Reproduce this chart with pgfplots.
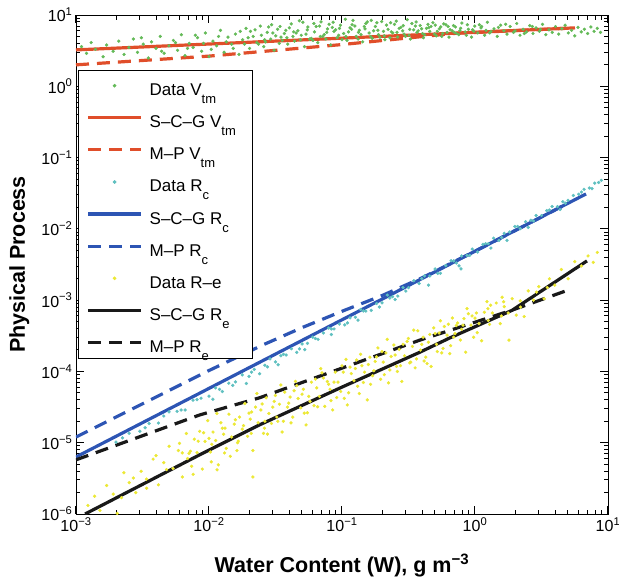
\documentclass[border=0pt]{standalone}
\usepackage{pgfplots}
\pgfplotsset{compat=1.18}
\usepackage{fontspec}
\setmainfont{Liberation Sans}
\definecolor{cgreen}{RGB}{100,186,88}
\definecolor{cred}{RGB}{224,78,42}
\definecolor{cblue}{RGB}{45,85,180}
\definecolor{ccyan}{RGB}{95,192,192}
\definecolor{cyellow}{RGB}{236,232,52}
\definecolor{cblack}{RGB}{25,25,25}
\newcommand\sub[1]{\raisebox{-8pt}{\fontsize{13}{13}\selectfont #1}}
\newcommand\rs{\rule[-9pt]{0pt}{30.4pt}}
\newcommand\tl[1]{\fontsize{16}{18}\selectfont 10\textsuperscript{#1}}
\begin{document}
\begin{tikzpicture}
\begin{axis}[
  scale only axis, width=532pt, height=499pt,
  xmode=log, ymode=log,
  xmin=1e-3, xmax=10, ymin=1e-6, ymax=10,
  xtick={1e-3,1e-2,1e-1,1,10},
  xticklabels={\tl{−3},\tl{−2},\tl{−1},\tl{0},\tl{1}},
  ytick={1e-6,1e-5,1e-4,1e-3,1e-2,1e-1,1,10},
  yticklabels={\tl{−6},\tl{−5},\tl{−4},\tl{−3},\tl{−2},\tl{−1},\tl{0},\tl{1}},
  minor xtick={2e-3,3e-3,4e-3,5e-3,6e-3,7e-3,8e-3,9e-3,2e-2,3e-2,4e-2,5e-2,6e-2,7e-2,8e-2,9e-2,0.2,0.3,0.4,0.5,0.6,0.7,0.8,0.9,2,3,4,5,6,7,8,9},
  minor ytick={2e-6,3e-6,4e-6,5e-6,6e-6,7e-6,8e-6,9e-6,2e-5,3e-5,4e-5,5e-5,6e-5,7e-5,8e-5,9e-5,2e-4,3e-4,4e-4,5e-4,6e-4,7e-4,8e-4,9e-4,2e-3,3e-3,4e-3,5e-3,6e-3,7e-3,8e-3,9e-3,2e-2,3e-2,4e-2,5e-2,6e-2,7e-2,8e-2,9e-2,0.2,0.3,0.4,0.5,0.6,0.7,0.8,0.9,2,3,4,5,6,7,8,9},
  tick align=inside,
  major tick length=8pt, minor tick length=4.5pt,
  tick style={black, line width=1pt},
  xlabel={\fontsize{21.5}{24}\selectfont\textbf{Water Content (W), g m\textsuperscript{−3}}},
  ylabel={\fontsize{21.5}{24}\selectfont\textbf{Physical Process}},
  xlabel style={at={(rel axis cs:0.5,0)}, anchor=base, yshift=-58pt},
  ylabel style={at={([xshift=-51pt]rel axis cs:0,0.5)}, anchor=base},
  legend image code/.code={\draw[mark repeat=2,mark phase=2] plot coordinates {(0pt,0pt) (26.5pt,0pt) (53pt,0pt)};},
  legend cell align=left,
  legend style={at={(rel axis cs:0.004,0.89)}, anchor=north west, draw=black, line width=0.7pt,
    fill=white, font=\fontsize{17}{19}\selectfont, inner xsep=8pt, inner ysep=2pt, row sep=5.2pt,
    /tikz/every odd column/.append style={column sep=5pt}},
]
\coordinate (bl) at (rel axis cs:0,0);
\coordinate (tr) at (rel axis cs:1,1);
% Data V_tm
\addplot[only marks, mark=*, mark size=1.45pt, color=cgreen] coordinates {
(0.0011,3.6)(0.0012,2.9)(0.0013,4.1)(0.0014,3.3)(0.0016,2.6)(0.0017,3.8)(0.0019,3.1)(0.0021,4.3)(0.0023,2.8)(0.0025,3.5)
(0.0027,4.6)(0.0029,3.0)(0.0032,3.9)(0.0035,2.5)(0.0037,4.2)(0.0040,3.4)(0.0043,5.0)(0.0046,2.9)(0.0050,3.7)(0.0054,4.4)
(0.0058,3.2)(0.0062,5.3)(0.0066,2.7)(0.0071,4.0)(0.0076,3.5)(0.0082,4.8)(0.0088,3.1)(0.0094,5.6)(0.0100,2.6)(0.0107,4.3)
(0.0114,3.7)(0.0122,6.1)(0.0130,3.0)(0.0139,4.9)(0.0148,3.9)(0.0158,5.4)(0.0168,2.8)(0.0179,4.5)(0.0190,6.5)(0.0202,3.4)
(0.0215,5.0)(0.0229,4.1)(0.0243,7.0)(0.0258,3.6)(0.0274,5.7)(0.0291,4.6)(0.0309,3.2)(0.0328,6.3)(0.0348,4.9)(0.0369,5.5)
(0.0391,3.9)(0.0415,7.5)(0.0440,4.3)(0.0466,6.0)(0.0494,5.2)(0.0523,3.6)(0.0554,6.8)(0.0587,4.7)(0.0621,5.8)(0.0657,4.1)
(0.0696,8.0)(0.0736,5.3)(0.0778,6.4)(0.0823,3.8)(0.0870,5.9)(0.0920,4.8)(0.0973,7.2)(0.103,5.5)(0.109,4.4)(0.115,6.6)
(0.121,8.4)(0.128,5.0)(0.135,6.1)(0.143,4.2)(0.151,7.6)(0.160,5.6)(0.169,4.7)(0.178,6.9)(0.188,5.3)(0.199,8.1)
(0.210,4.5)(0.222,6.3)(0.235,5.8)(0.248,7.4)(0.262,4.9)(0.277,6.7)(0.293,5.4)(0.310,8.6)(0.327,4.6)(0.346,6.2)
(0.366,5.7)(0.387,7.1)(0.409,4.8)(0.432,6.5)(0.457,5.9)(0.483,7.8)(0.511,5.1)(0.540,6.4)(0.571,5.5)(0.604,7.3)
(0.638,4.9)(0.675,6.0)(0.713,6.8)(0.754,5.3)(0.797,7.7)(0.843,5.8)(0.891,6.3)(0.942,4.9)(0.996,7.0)(1.05,5.6)
(1.11,6.6)(1.18,5.2)(1.24,7.9)(1.32,5.9)(1.39,6.4)(1.47,5.0)(1.56,7.2)(1.65,6.0)(1.74,5.4)(1.84,6.9)
(1.95,5.7)(2.06,7.6)(2.18,5.2)(2.30,6.3)(2.44,5.8)(2.58,7.1)(2.73,5.5)(2.88,6.6)(3.05,5.9)(3.22,7.4)
(3.41,5.3)(3.60,6.2)(3.81,5.7)(4.03,6.9)(4.26,5.4)(4.50,6.4)(4.76,7.2)(5.03,5.6)(5.32,6.1)(5.63,5.1)
(5.95,6.7)(6.29,5.8)(6.65,6.3)(7.03,5.5)(7.44,6.8)(7.86,5.9)(8.31,6.5)(8.79,5.7)
(0.0205,5.9)(0.0236,3.9)(0.0281,6.8)(0.0318,5.1)(0.0356,4.4)(0.0402,6.6)(0.0452,5.6)(0.0508,7.9)(0.0570,4.6)(0.0640,6.9)
(0.0716,5.0)(0.0800,7.4)(0.0895,6.2)(0.100,4.5)(0.112,5.8)(0.125,7.0)(0.139,5.3)(0.155,8.0)(0.173,6.0)(0.193,4.9)
(0.216,7.2)(0.241,5.6)(0.269,6.5)(0.300,5.0)(0.335,7.6)(0.374,6.0)(0.418,5.3)(0.467,6.9)(0.521,5.9)(0.582,7.5)
(0.650,6.2)(0.726,5.5)
(0.0222,6.2)(0.0262,4.5)(0.0296,7.3)(0.0338,4.0)(0.0378,6.1)(0.0428,5.0)(0.0478,8.3)(0.0536,5.4)(0.0605,4.4)(0.0678,7.0)
(0.0757,4.6)(0.0846,6.7)(0.0945,5.2)(0.106,8.7)(0.118,6.3)(0.132,4.6)(0.147,6.9)(0.164,5.0)(0.183,7.8)(0.205,5.9)
(0.229,4.8)(0.256,8.2)(0.286,6.0)(0.319,5.2)(0.356,7.0)(0.397,6.4)(0.443,7.4)(0.495,5.4)(0.553,6.8)(0.617,5.7)
(0.69,7.1)(0.77,6.0)(0.86,5.2)(0.96,6.2)(1.08,7.3)(1.21,6.1)
(0.0031,4.8)(0.0044,3.1)(0.0056,4.1)(0.0069,3.4)(0.0079,5.2)(0.0091,4.0)(0.0104,3.3)(0.0118,5.0)(0.0135,4.2)(0.0152,3.4)
(0.0172,5.9)(0.0185,3.9)(0.0197,4.8)(0.0248,5.2)(0.0266,4.2)(0.0302,5.6)(0.0342,6.9)(0.0385,4.8)(0.0433,5.8)(0.0487,4.5)
(0.0548,6.2)(0.0615,7.6)(0.0688,5.0)(0.0768,5.7)(0.0858,7.9)(0.0958,6.5)(0.107,5.0)(0.119,7.3)(0.133,5.7)(0.149,6.4)
(0.166,8.4)(0.186,6.1)(0.208,5.1)(0.232,7.8)(0.259,5.7)(0.289,7.1)(0.323,6.3)(0.361,8.0)(0.403,5.5)(0.45,6.7)
(0.503,7.2)(0.562,5.0)(0.628,6.9)(0.70,5.7)(0.78,6.5)(0.875,7.3)(0.98,5.9)(1.12,6.9)(1.29,5.6)(1.5,6.7)
(1.7,7.4)(2.0,6.0)(2.35,5.5)(2.7,6.9)(3.1,6.3)
};
\addlegendentry{\rs Data V\sub{tm}}
\addplot[cred, line width=3.2pt] coordinates {(0.001,3.24)(5.65,6.6)};
\addlegendentry{\rs S–C–G V\sub{tm}\hspace*{6pt}}
\addplot[cred, line width=3.2pt, dash pattern=on 13pt off 8pt] coordinates {(0.001,2.0)(0.01,2.65)(0.1,3.85)(0.68,5.5)(4.83,6.5)};
\addlegendentry{\rs M–P V\sub{tm}}
% Data R_c
\addplot[only marks, mark=*, mark size=1.45pt, color=ccyan] coordinates {
(0.0020,1.02e-5)(0.00251,1.36e-5)(0.00302,1.45e-5)(0.00355,1.86e-5)(0.00417,1.89e-5)(0.00501,2.71e-5)(0.00575,2.76e-5)(0.00661,2.88e-5)
(0.00759,3.95e-5)(0.00871,4.21e-5)(0.0100,4.49e-5)(0.0112,5.89e-5)(0.0126,5.22e-5)(0.0141,6.85e-5)(0.0158,7.14e-5)(0.0178,8.95e-5)
(0.0200,8.53e-5)(0.0219,1.07e-4)(0.0240,9.29e-5)(0.0263,1.22e-4)(0.0288,1.50e-4)(0.0316,1.36e-4)(0.0347,1.66e-4)(0.0380,1.70e-4)
(0.0417,2.08e-4)(0.0457,1.85e-4)(0.0501,2.43e-4)(0.0550,2.48e-4)(0.0603,3.03e-4)(0.0661,2.82e-4)(0.0724,3.46e-4)(0.0794,4.06e-4)
(0.0871,3.94e-4)(0.0955,4.62e-4)(0.105,4.50e-4)(0.115,5.65e-4)(0.126,5.75e-4)(0.138,7.40e-4)(0.151,7.03e-4)(0.166,7.18e-4)
(0.182,8.99e-4)(0.200,9.18e-4)(0.219,1.18e-3)(0.240,1.12e-3)(0.263,1.14e-3)(0.288,1.50e-3)(0.316,1.50e-3)(0.347,1.87e-3)
(0.380,1.71e-3)(0.417,2.19e-3)(0.457,2.18e-3)(0.501,2.74e-3)(0.550,2.38e-3)(0.603,3.05e-3)(0.661,3.57e-3)(0.724,3.32e-3)
(0.794,4.17e-3)(0.871,4.25e-3)(0.955,5.20e-3)(1.047,4.73e-3)(1.148,6.07e-3)(1.259,6.19e-3)(1.380,7.41e-3)(1.514,6.90e-3)
(1.660,8.65e-3)(1.820,9.04e-3)(1.995,1.08e-2)(2.188,1.01e-2)(2.399,1.26e-2)(2.630,1.32e-2)(2.884,1.54e-2)(3.162,1.54e-2)
(3.467,1.80e-2)(3.802,2.06e-2)(4.169,2.05e-2)(4.571,2.40e-2)(5.012,2.51e-2)(5.495,2.94e-2)(6.026,3.06e-2)(6.607,3.59e-2)
(7.244,3.74e-2)(7.943,4.38e-2)(8.511,4.47e-2)
(0.0107,4.08e-5)(0.0191,6.78e-5)(0.0331,1.24e-4)(0.0525,2.02e-4)(0.0832,3.29e-4)(0.132,5.24e-4)(0.251,1.02e-3)(0.447,1.62e-3)
(0.759,3.03e-3)(1.318,5.38e-3)(2.512,1.05e-2)(4.365,1.87e-2)(0.785,2.75e-3)(1.74,6.9e-3)
(0.00224,1.17e-5)(0.00331,1.62e-5)(0.00457,2.37e-5)(0.00617,2.88e-5)(0.00813,4.03e-5)(0.0120,5.61e-5)(0.0151,6.38e-5)(0.0209,9.77e-5)
(0.0275,1.16e-4)(0.0363,1.74e-4)(0.0479,2.07e-4)(0.0631,2.90e-4)(0.0832,3.95e-4)(0.110,4.81e-4)(0.145,7.05e-4)(0.191,8.00e-4)
(0.229,1.07e-3)(0.302,1.34e-3)(0.398,2.00e-3)(0.525,2.38e-3)(0.692,3.56e-3)(0.912,4.25e-3)(1.202,6.21e-3)(1.585,7.55e-3)
(2.089,1.08e-2)(2.754,1.29e-2)(3.631,1.84e-2)(4.786,2.29e-2)(6.310,3.28e-2)(7.586,3.66e-2)(8.913,4.79e-2)
};
\addlegendentry{\rs Data R\sub{c}}
\addplot[cblue, line width=3.2pt] coordinates {(0.001,6.31e-6)(6.84,0.0309)};
\addlegendentry{\rs S–C–G R\sub{c}}
\addplot[cblue, line width=3.2pt, dash pattern=on 13pt off 8pt] coordinates {(0.001,1.2e-5)(0.01,1.03e-4)(0.0251,2.33e-4)(0.0501,4.12e-4)(0.1,6.98e-4)(0.1995,1.156e-3)(0.398,2.05e-3)(1,4.85e-3)(4.83,0.0221)};
\addlegendentry{\rs M–P R\sub{c}}
% Data R_e
\addplot[only marks, mark=*, mark size=1.45pt, color=cyellow] coordinates {
(1.230e-3,1.318e-6)(1.380e-3,1.778e-6)(1.514e-3,1.122e-6)(1.698e-3,2.512e-6)(1.905e-3,1.905e-6)(2.042e-3,1.023e-6)
(2.291e-3,3.802e-6)(2.512e-3,2.754e-6)(2.818e-3,1.995e-6)(3.090e-3,3.981e-6)(3.388e-3,3.090e-6)(3.802e-3,5.888e-6)
(4.169e-3,2.570e-6)(4.571e-3,5.248e-6)(5.012e-3,8.913e-6)(5.370e-3,4.365e-6)(5.888e-3,7.762e-6)(6.310e-3,3.311e-6)
(6.761e-3,1.349e-5)(7.079e-3,7.079e-6)(7.413e-3,4.677e-6)(7.762e-3,1.122e-5)(8.128e-3,7.244e-6)(8.511e-3,1.445e-5)
(8.913e-3,4.266e-6)(9.333e-3,1.047e-5)(9.772e-3,2.042e-5)(1.023e-2,7.413e-6)(1.072e-2,1.413e-5)(1.122e-2,1.072e-5)
(1.175e-2,4.898e-6)(1.230e-2,1.905e-5)(1.288e-2,1.318e-5)(1.349e-2,8.318e-6)(1.413e-2,2.512e-5)(1.479e-2,1.202e-5)
(1.549e-2,1.820e-5)(1.622e-2,7.762e-6)(1.698e-2,2.291e-5)(1.778e-2,1.549e-5)(1.862e-2,3.548e-5)(1.950e-2,1.230e-5)
(2.042e-2,2.138e-5)(2.138e-2,7.762e-6)(2.239e-2,3.162e-5)(2.344e-2,1.905e-5)(2.455e-2,2.884e-5)(2.570e-2,1.349e-5)
(2.692e-2,4.266e-5)(2.818e-2,2.570e-5)(2.951e-2,1.862e-5)(3.090e-2,3.802e-5)(3.236e-2,2.291e-5)(3.388e-2,3.467e-5)
(3.548e-2,1.413e-5)(3.715e-2,5.129e-5)(3.890e-2,3.162e-5)(4.074e-2,4.365e-5)(4.266e-2,2.291e-5)(4.467e-2,7.244e-5)
(4.677e-2,4.169e-5)(4.898e-2,3.090e-5)(5.129e-2,5.623e-5)(5.370e-2,1.778e-5)(5.623e-2,4.467e-5)(5.888e-2,7.079e-5)
(6.166e-2,3.311e-5)(6.457e-2,5.888e-5)(6.761e-2,4.467e-5)(7.079e-2,9.550e-5)(7.413e-2,3.236e-5)(7.762e-2,7.244e-5)
(8.128e-2,5.623e-5)(8.511e-2,2.884e-5)(8.913e-2,9.772e-5)(9.333e-2,7.079e-5)(9.772e-2,5.248e-5)(0.1023,9.772e-5)
(0.1072,1.479e-4)(0.1122,5.012e-5)(0.1175,9.333e-5)(0.1230,7.413e-5)(0.1288,1.445e-4)(0.1349,4.898e-5)
(0.1413,1.202e-4)(0.1479,9.772e-5)(0.1549,3.981e-5)(0.1622,1.585e-4)(0.1698,8.710e-5)(0.1778,1.380e-4)
(0.1862,2.138e-4)(0.1950,7.762e-5)(0.2042,1.349e-4)(0.2138,1.820e-4)(0.2239,6.918e-5)(0.2344,1.622e-4)
(0.2455,2.344e-4)(0.2570,1.175e-4)(0.2692,2.042e-4)(0.2818,7.244e-5)(0.2951,1.660e-4)(0.3090,2.630e-4)
(0.3236,1.318e-4)(0.3388,2.239e-4)(0.3548,1.122e-4)(0.3715,3.715e-4)(0.3890,1.995e-4)(0.4074,3.020e-4)
(0.4266,1.585e-4)(0.4467,2.570e-4)(0.4677,1.175e-4)(0.4898,4.074e-4)(0.5129,2.399e-4)(0.5370,3.467e-4)
(0.5623,1.820e-4)(0.5888,4.266e-4)(0.6166,3.236e-4)(0.6457,1.778e-4)(0.6761,5.623e-4)(0.7079,3.388e-4)
(0.7413,4.786e-4)(0.7762,2.754e-4)(0.8128,4.467e-4)(0.8511,1.862e-4)(0.8913,6.457e-4)(0.9333,4.467e-4)
(0.9772,3.020e-4)(1.023,6.607e-4)(1.072,4.677e-4)(1.122,2.692e-4)(1.175,6.761e-4)(1.230,9.550e-4)
(1.288,4.571e-4)(1.349,6.607e-4)(1.445,9.120e-4)(1.549,4.677e-4)(1.660,8.128e-4)(1.778,6.607e-4)
(1.905,1.047e-3)(2.042,6.166e-4)(2.188,9.772e-4)(2.344,5.888e-4)(2.512,1.349e-3)(2.754,1.000e-3)
(3.020,1.549e-3)(3.311,1.047e-3)(3.631,1.995e-3)(3.981,1.622e-3)(4.467,2.692e-3)(5.012,1.995e-3)
(5.623,3.467e-3)(6.310,3.020e-3)(7.079,4.169e-3)(7.762,3.388e-3)(8.318,4.677e-3)(1.80,2.75e-4)
(2.754e-2,1.318e-5)(3.467e-2,6.457e-5)(4.365e-2,5.370e-5)(5.495e-2,2.630e-5)(6.918e-2,1.096e-4)(8.710e-2,7.079e-5)
(0.1096,3.388e-5)(0.1380,1.738e-4)(0.1738,1.023e-4)(0.2188,2.818e-4)(0.2754,1.202e-4)(0.3467,3.802e-4)
(0.4365,1.288e-4)(0.5495,5.129e-4)(0.6918,3.020e-4)(0.8710,7.586e-4)(1.148e-2,2.570e-5)(1.445e-2,6.457e-6)
(1.820e-2,1.738e-5)(2.291e-2,4.898e-5)(9.120e-3,1.380e-5)(7.244e-3,7.586e-6)(0.0214,3.31e-6)(0.0115,4.17e-6)
(0.0302,3.16e-5)(0.0363,2.0e-5)(0.0457,6.3e-5)(0.0575,3.8e-5)(0.0724,8.1e-5)(0.0912,4.3e-5)(0.115,1.15e-4)(0.145,7.0e-5)
(0.182,1.6e-4)(0.229,1.05e-4)(0.288,2.4e-4)(0.363,1.5e-4)(0.457,3.3e-4)(0.575,2.1e-4)(0.724,4.4e-4)(0.0132,1.6e-5)
(0.0166,1.05e-5)(0.0209,2.7e-5)(0.0263,2.0e-5)(0.0105,9.5e-6)(0.0083,1.05e-5)(0.0069,6.0e-6)(0.0060,9.8e-6)(0.0048,4.2e-6)
(0.0040,6.6e-6)(0.0034,2.3e-6)(0.0027,3.2e-6)(0.0022,1.7e-6)(0.95,6.0e-4)(1.25,7.6e-4)(1.6,1.1e-3)(2.2,8.0e-4)(2.9,1.3e-3)(3.5,1.5e-3)
(0.0063,7.2e-6)(0.0076,3.6e-6)(0.0100,1.15e-5)(0.0104,5.4e-6)(0.0126,1.6e-5)(0.0131,7.2e-6)(0.0158,2.1e-5)(0.0164,1.0e-5)
(0.0200,2.6e-5)(0.0208,1.35e-5)(0.0251,3.5e-5)(0.0261,1.6e-5)(0.0316,4.6e-5)(0.0329,2.0e-5)(0.0398,3.6e-5)(0.0414,1.9e-5)
(0.0501,4.8e-5)(0.0521,2.6e-5)(0.0631,7.8e-5)(0.0656,3.2e-5)(0.0794,6.6e-5)(0.0826,3.9e-5)(0.100,1.2e-4)(0.104,4.2e-5)
(0.126,1.1e-4)(0.131,6.2e-5)(0.158,1.25e-4)(0.164,6.6e-5)(0.200,1.9e-4)(0.208,9.0e-5)(0.251,1.7e-4)(0.261,1.0e-4)
(0.316,2.9e-4)(0.329,1.35e-4)(0.398,2.4e-4)(0.414,1.4e-4)(0.501,3.4e-4)(0.521,1.9e-4)(0.631,4.6e-4)(0.656,2.3e-4)
(0.794,3.9e-4)(0.826,5.5e-4)(1.0,5.6e-4)(1.04,3.5e-4)(1.26,5.2e-4)(1.31,8.5e-4)(1.58,6.0e-4)(1.64,9.5e-4)
};
\addlegendentry{\rs Data R–e}
\addplot[cblack, line width=3.2pt] coordinates {(1.17e-3,1e-6)(8.5e-3,6.76e-6)(0.024,1.78e-5)(0.1,6.03e-5)(0.385,1.86e-4)(0.646,2.95e-4)(1.9,7.2e-4)(6.95,3.55e-3)};
\addlegendentry{\rs S–C–G R\sub{e}}
\addplot[cblack, line width=3.2pt, dash pattern=on 13pt off 8pt] coordinates {(0.001,5.75e-6)(8.5e-3,2.45e-5)(0.024,4.27e-5)(0.385,2.75e-4)(1.9,7.24e-4)(4.83,1.35e-3)};
\addlegendentry{\rs M–P R\sub{e}}
\end{axis}
\pgfresetboundingbox
\path[use as bounding box] ([xshift=-76pt,yshift=-64pt]bl) rectangle ([xshift=11pt,yshift=15pt]tr);
\end{tikzpicture}
\end{document}
